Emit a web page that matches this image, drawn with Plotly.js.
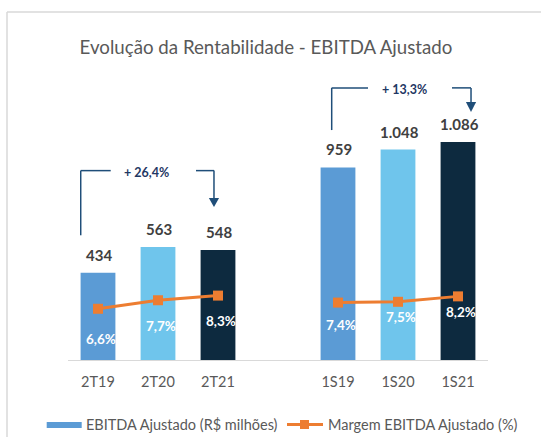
<!DOCTYPE html>
<html>
<head>
<meta charset="utf-8">
<script src="https://cdn.plot.ly/plotly-3.0.1.min.js"></script>
<style>html,body{margin:0;padding:0;background:#fff;}#chart{width:541px;height:437px;}</style>
</head>
<body>
<div id="chart"></div>
<script>
// ---- data ----
const groupA = ['2T19', '2T20', '2T21'];
const groupB = ['1S19', '1S20', '1S21'];
const categories = groupA.concat(groupB);
const ebitda = [434, 563, 548, 959, 1048, 1086];       // R$ milhões
const margem = [6.6, 7.7, 8.3, 7.4, 7.5, 8.2];         // %
const growthLabels = ['+ 26,4%', '+ 13,3%'];
const legendNames = ['EBITDA Ajustado (R$ milhões)', 'Margem EBITDA Ajustado (%)'];
const chartTitle = 'Evolução da Rentabilidade - EBITDA Ajustado';

// ---- styling / layout helpers ----
const FONT = 'Lato, "Open Sans", sans-serif';
const barColors = ['#5B9BD5', '#6FC5EC', '#0D2A3F'];
const orange = '#ED7D31';
const navy = '#1F4E79';
const gray = '#595959';
const slot = i => (i < groupA.length ? i : i + 1);   // leave one empty slot between groups
const xs = categories.map((c, i) => slot(i));
const fmtInt = v => String(v).replace(/\B(?=(\d{3})+(?!\d))/g, '.');
const fmtPct = v => v.toFixed(1).replace('.', ',') + '%';
const labelDrop = [30, 26, 25, 22, 15, 16];   // px below markers (label placement)

const traces = [{
  type: 'bar', x: xs, y: ebitda, width: 0.58,
  marker: {color: categories.map((c, i) => barColors[i % 3])},
  hoverinfo: 'none', showlegend: false
}];
[[0, 1, 2], [3, 4, 5]].forEach(idx => {
  traces.push({
    type: 'scatter', mode: 'lines+markers', yaxis: 'y2',
    x: idx.map(i => xs[i]), y: idx.map(i => margem[i]),
    line: {color: orange, width: 3},
    marker: {symbol: 'square', size: 10, color: orange},
    hoverinfo: 'none', showlegend: false
  });
});

const annotations = [];
categories.forEach((c, i) => {
  annotations.push({
    x: xs[i], y: ebitda[i], xref: 'x', yref: 'y', text: fmtInt(ebitda[i]),
    showarrow: false, yanchor: 'middle', yshift: 18, xshift: 1,
    font: {family: FONT, size: 15, color: '#404040', weight: 'bold'}
  });
  annotations.push({
    x: xs[i], y: margem[i], xref: 'x', yref: 'y2', text: fmtPct(margem[i]),
    showarrow: false, yanchor: 'middle', yshift: -labelDrop[i], xshift: 3,
    font: {family: FONT, size: 13.5, color: '#FFFFFF', weight: 'bold'}
  });
});

// growth brackets (decoration)
const brackets = [
  {x0: -0.288, yBottom: ebitda[0] + 187, yTop: 943, gapL: 0.212, gapR: 1.633, xArrow: 1.933, yBase: 807, yTip: 762, xText: 0.8, yText: 933},
  {x0: 3.895, yBottom: ebitda[3] + 186, yTop: 1355, gapL: 4.5, gapR: 5.9, xArrow: 6.217, yBase: 1285, yTip: 1235, xText: 5.1, yText: 1347}
];
const shapes = [];
brackets.forEach((b, k) => {
  const ln = {color: navy, width: 1.5};
  shapes.push({type: 'line', xref: 'x', yref: 'y', x0: b.x0, x1: b.x0, y0: b.yBottom, y1: b.yTop, line: ln});
  shapes.push({type: 'line', xref: 'x', yref: 'y', x0: b.x0, x1: b.gapL, y0: b.yTop, y1: b.yTop, line: ln});
  shapes.push({type: 'line', xref: 'x', yref: 'y', x0: b.gapR, x1: b.xArrow, y0: b.yTop, y1: b.yTop, line: ln});
  shapes.push({type: 'line', xref: 'x', yref: 'y', x0: b.xArrow, x1: b.xArrow, y0: b.yTop, y1: b.yBase, line: ln});
  shapes.push({type: 'path', xref: 'x', yref: 'y',
    path: `M ${b.xArrow - 0.085},${b.yBase} L ${b.xArrow + 0.085},${b.yBase} L ${b.xArrow},${b.yTip} Z`,
    fillcolor: navy, line: {width: 0}});
  annotations.push({x: b.xText, y: b.yText, xref: 'x', yref: 'y', text: growthLabels[k], showarrow: false,
    font: {family: FONT, size: 12.5, color: '#1F3864', weight: 'bold'}});
});

// chart frame (top + left border)
const PL = 68, PT = 69, PW = 420, PH = 291;
const px = v => (v - PL) / PW, py = v => (PT + PH - v) / PH;
shapes.push({type: 'line', xref: 'paper', yref: 'paper', x0: px(7), x1: px(541), y0: py(12), y1: py(12), line: {color: '#D9D9D9', width: 1.5}});
shapes.push({type: 'line', xref: 'paper', yref: 'paper', x0: px(7), x1: px(7), y0: py(12), y1: py(437), line: {color: '#D9D9D9', width: 1.5}});

// custom legend
shapes.push({type: 'rect', xref: 'paper', yref: 'paper', x0: px(46.7), x1: px(81.7), y0: py(428), y1: py(422), fillcolor: barColors[0], line: {width: 0}});
shapes.push({type: 'line', xref: 'paper', yref: 'paper', x0: px(287), x1: px(323), y0: py(424.5), y1: py(424.5), line: {color: orange, width: 3}});
shapes.push({type: 'rect', xref: 'paper', yref: 'paper', x0: px(300), x1: px(309), y0: py(429), y1: py(420), fillcolor: orange, line: {width: 0}});
annotations.push({x: px(84), y: py(424.5), xref: 'paper', yref: 'paper', xanchor: 'left', yanchor: 'middle', showarrow: false,
  text: legendNames[0], font: {family: FONT, size: 14.5, color: gray}});
annotations.push({x: px(326), y: py(424.5), xref: 'paper', yref: 'paper', xanchor: 'left', yanchor: 'middle', showarrow: false,
  text: legendNames[1], font: {family: FONT, size: 14.5, color: gray}});

const layout = {
  width: 541, height: 437,
  margin: {l: PL, r: 541 - PL - PW, t: PT, b: 437 - PT - PH, pad: 0},
  paper_bgcolor: '#FFFFFF', plot_bgcolor: '#FFFFFF',
  title: {text: chartTitle, x: 266 / 541, xref: 'container', xanchor: 'center', y: 1 - 47 / 437, yref: 'container', yanchor: 'middle',
    font: {family: FONT, size: 18.7, color: gray}},
  xaxis: {range: [-0.5, 6.5], tickvals: xs, ticktext: categories, showgrid: false, zeroline: false,
    showline: true, linecolor: '#D9D9D9', linewidth: 1, ticks: '', ticklabelstandoff: 9,
    tickfont: {family: FONT, size: 14.5, color: gray}, fixedrange: true},
  yaxis: {range: [0, 1449], visible: false, showgrid: false, zeroline: false, fixedrange: true},
  yaxis2: {range: [0, 37.5], overlaying: 'y', side: 'right', visible: false, showgrid: false, zeroline: false, fixedrange: true},
  bargap: 0.4,
  showlegend: false,
  shapes: shapes,
  annotations: annotations,
  font: {family: FONT}
};
Plotly.newPlot('chart', traces, layout, {displayModeBar: false, staticPlot: true});
</script>
</body>
</html>
